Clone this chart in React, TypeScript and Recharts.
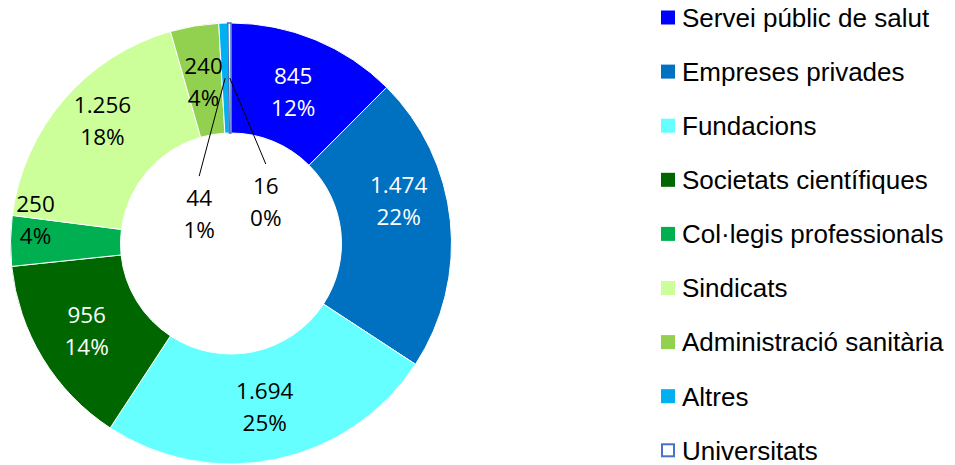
import React from 'react';
import { PieChart, Pie, Cell, Legend } from 'recharts';

const categories = [
  'Servei públic de salut',
  'Empreses privades',
  'Fundacions',
  'Societats científiques',
  'Col·legis professionals',
  'Sindicats',
  'Administració sanitària',
  'Altres',
  'Universitats',
];
const values = [845, 1474, 1694, 956, 250, 1256, 240, 44, 16];
const percentLabels = ['12%', '22%', '25%', '14%', '4%', '18%', '4%', '1%', '0%'];

const fills = ['#0000FF', '#0070C0', '#66FFFF', '#006600', '#00B050', '#CCFF99', '#92D050', '#00B0F0', '#FFFFFF'];
const strokes = ['#FFFFFF', '#FFFFFF', '#FFFFFF', '#FFFFFF', '#FFFFFF', '#FFFFFF', '#FFFFFF', '#FFFFFF', '#4472C4'];
const labelColors = ['#FFFFFF', '#FFFFFF', '#000000', '#FFFFFF', '#000000', '#000000', '#000000', '#000000', '#000000'];
// manual label displacement (as placed in the original), [dx, dy], and leader flag
const labelOffsets: [number, number][] = [
  [-1, 1.5], [3, -25], [0, 1.5], [-3, 1.5], [-30, -21.5], [-3, -14.5], [0, 2], [-26, 136], [36, 124],
];
const leaders = [false, false, false, false, false, false, false, true, true];

const data = categories.map((name, i) => ({ name, value: values[i], pct: percentLabels[i] }));

const fmt = (n: number) => {
  const s = String(n);
  return s.replace(/\B(?=(\d{3})+(?!\d))/g, '.');
};

const RAD = Math.PI / 180;
const LABEL_FONT = '"Open Sans", sans-serif';
const LABEL_SIZE = 22.5;

const renderLabel = (props: any) => {
  const { cx, cy, midAngle, innerRadius, outerRadius, index } = props;
  const r = (innerRadius + outerRadius) / 2;
  const mx = cx + r * Math.cos(-midAngle * RAD);
  const my = cy + r * Math.sin(-midAngle * RAD);
  const [dx, dy] = labelOffsets[index];
  const lx = mx + dx;
  const ly = my + dy;
  const base = LABEL_SIZE * 0.357;
  return (
    <g key={`lbl-${index}`}>
      {leaders[index] && (
        <line x1={lx} y1={ly - 38} x2={mx} y2={my} stroke="#000" strokeWidth={1} />
      )}
      <text
        x={lx}
        y={ly - 16 + base}
        textAnchor="middle"
        fill={labelColors[index]}
        fontFamily={LABEL_FONT}
        fontSize={LABEL_SIZE}
      >
        {fmt(values[index])}
      </text>
      <text
        x={lx}
        y={ly + 16 + base}
        textAnchor="middle"
        fill={labelColors[index]}
        fontFamily={LABEL_FONT}
        fontSize={LABEL_SIZE}
      >
        {percentLabels[index]}
      </text>
    </g>
  );
};

const LEGEND_ROW = 54.1;
const LEGEND_FIRST = 17.5;

const renderLegend = () => (
  <svg width={294} height={465} style={{ display: 'block' }}>
    {categories.map((name, i) => {
      const cyRow = LEGEND_FIRST + i * LEGEND_ROW;
      const hollow = fills[i] === '#FFFFFF';
      return (
        <g key={name}>
          {hollow ? (
            <rect x={1} y={cyRow - 6} width={12} height={12} fill="#FFFFFF" stroke="#4472C4" strokeWidth={2} />
          ) : (
            <rect x={0} y={cyRow - 7} width={14} height={14} fill={fills[i]} />
          )}
          <text
            x={21}
            y={cyRow + 9.3}
            fontFamily='"Liberation Sans", Arial, sans-serif'
            fontSize={26}
            fill="#000"
          >
            {name}
          </text>
        </g>
      );
    })}
  </svg>
);

export default function App() {
  return (
    <div style={{ position: 'absolute', left: 0, top: 0, width: 955, height: 465, background: '#fff' }}>
      <PieChart width={955} height={465} margin={{ top: 0, right: 0, bottom: 0, left: 0 }}>
        <Pie
          data={data}
          dataKey="value"
          nameKey="name"
          cx={231}
          cy={243.5}
          innerRadius={110.5}
          outerRadius={220.5}
          startAngle={90}
          endAngle={-270}
          isAnimationActive={false}
          labelLine={false}
          label={renderLabel}
        >
          {data.map((d, i) => (
            <Cell key={d.name} fill={fills[i]} stroke={strokes[i]} strokeWidth={i === 8 ? 1.5 : 1} />
          ))}
        </Pie>
        <Legend
          content={renderLegend}
          wrapperStyle={{ position: 'absolute', left: 661, top: 0, width: 294, height: 465 }}
        />
      </PieChart>
    </div>
  );
}
